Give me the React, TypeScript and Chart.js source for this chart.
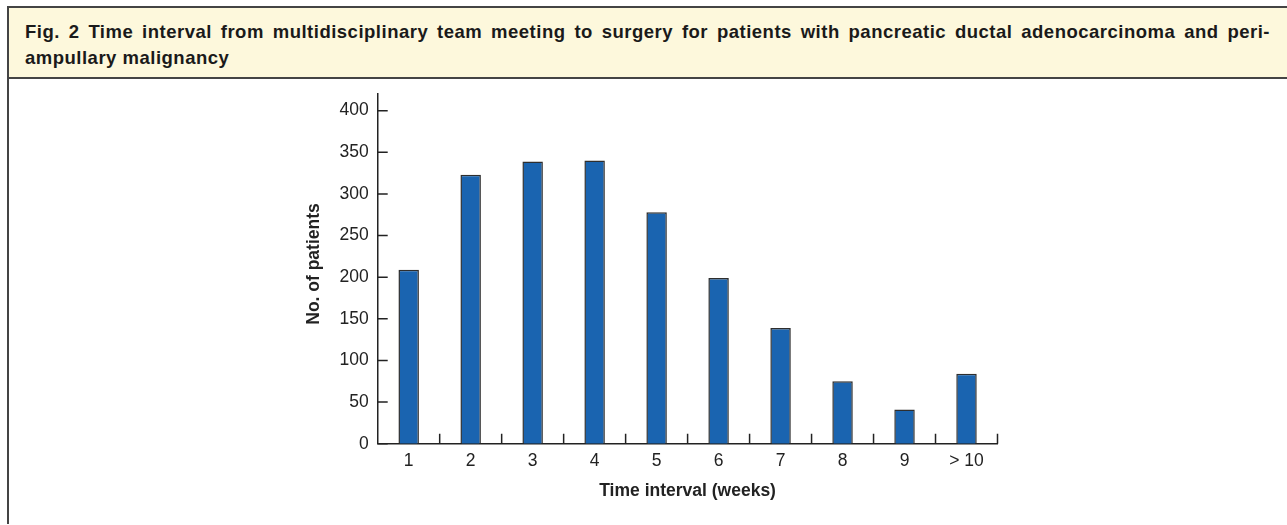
import React, { useEffect, useRef } from "react";
import { Chart, registerables } from "chart.js";

Chart.register(...registerables);

const categories = ["1", "2", "3", "4", "5", "6", "7", "8", "9", "> 10"];
const patients = [209, 323, 339, 340, 278, 199, 139, 75, 41, 84];
const yTickValues = [0, 50, 100, 150, 200, 250, 300, 350, 400];
const figureTitle =
  "Fig. 2 Time interval from multidisciplinary team meeting to surgery for patients with pancreatic ductal adenocarcinoma and peri-ampullary malignancy";
const xAxisTitle = "Time interval (weeks)";
const yAxisTitle = "No. of patients";

const FONT = "'Liberation Sans', Arial, Helvetica, sans-serif";
const INK = "#222222";

const tickMarks = {
  id: "tickMarks",
  afterDraw(chart: any) {
    const { ctx, chartArea } = chart;
    const x = chart.scales.x;
    const y = chart.scales.y;
    ctx.save();
    ctx.strokeStyle = INK;
    ctx.lineWidth = 1.5;
    ctx.beginPath();
    yTickValues.forEach((v) => {
      const py = y.getPixelForValue(v);
      ctx.moveTo(chartArea.left, py);
      ctx.lineTo(chartArea.left + 10, py);
    });
    const half = (x.getPixelForValue(1) - x.getPixelForValue(0)) / 2;
    categories.forEach((_, i) => {
      const px = x.getPixelForValue(i) + half;
      ctx.moveTo(px, chartArea.bottom);
      ctx.lineTo(px, chartArea.bottom - 10);
    });
    ctx.stroke();
    ctx.restore();
  },
};

export default function App() {
  const canvasRef = useRef<HTMLCanvasElement | null>(null);

  useEffect(() => {
    if (!canvasRef.current) return;
    const chart = new Chart(canvasRef.current, {
      type: "bar",
      data: {
        labels: categories,
        datasets: [
          {
            data: patients,
            backgroundColor: "#1a64b0",
            borderColor: "#2e2e2e",
            borderWidth: 1.5,
            barPercentage: 0.33,
            categoryPercentage: 1,
          },
        ],
      },
      options: {
        animation: false,
        responsive: false,
        devicePixelRatio: 1,
        layout: { padding: { left: 0, right: 289.5, top: 14, bottom: 0 } },
        plugins: {
          legend: { display: false },
          tooltip: { enabled: false },
        },
        scales: {
          x: {
            type: "category",
            offset: true,
            grid: { display: false, drawTicks: false },
            border: { display: true, color: INK, width: 1.5 },
            ticks: {
              color: INK,
              font: { family: FONT, size: 17.5 },
              padding: 7,
              maxRotation: 0,
              autoSkip: false,
            },
            title: {
              display: true,
              text: xAxisTitle,
              color: INK,
              font: { family: FONT, size: 17.5, weight: "bold" },
              padding: { top: 0, bottom: 23.5 },
            },
            afterFit: (s: any) => {
              s.height = 81.3;
              s.paddingLeft = 0;
              s.paddingRight = 0;
            },
          },
          y: {
            min: 0,
            max: 420,
            grid: { display: false, drawTicks: false },
            border: { display: true, color: INK, width: 1.5 },
            ticks: {
              stepSize: 50,
              includeBounds: false,
              autoSkip: false,
              color: INK,
              font: { family: FONT, size: 17.5 },
              padding: 9,
            },
            title: {
              display: true,
              text: "  " + yAxisTitle,
              color: INK,
              font: { family: FONT, size: 17.5, weight: "bold" },
              padding: { top: 303.5, bottom: 0 },
            },
            afterFit: (s: any) => {
              s.width = 377.7;
              s.paddingTop = 0;
              s.paddingBottom = 0;
            },
          },
        },
      },
      plugins: [tickMarks],
    });
    return () => chart.destroy();
  }, []);

  return (
    <div
      style={{
        position: "fixed",
        left: 0,
        top: 0,
        width: "100%",
        height: "100%",
        overflow: "hidden",
        background: "#ffffff",
      }}
    >
      <div
        style={{
          position: "absolute",
          left: 7,
          top: 6,
          width: 1300,
          boxSizing: "border-box",
          background: "#fdf8dc",
          borderTop: "2px solid #444",
          borderBottom: "2px solid #444",
          padding: "10.8px 0 5.3px 18px",
        }}
      >
        <div
          style={{
            width: 1245,
            fontFamily: FONT,
            fontWeight: "bold",
            fontSize: 18.5,
            letterSpacing: "0.5px",
            lineHeight: "26.6px",
            color: "#1a1a1a",
            textAlign: "justify",
          }}
        >
          {figureTitle}
        </div>
      </div>
      <canvas
        ref={canvasRef}
        width={1287}
        height={445}
        style={{ position: "absolute", left: 0, top: 80, width: 1287, height: 445 }}
      />
      <div
        style={{
          position: "absolute",
          left: 7,
          top: 6,
          width: 2,
          height: 518,
          background: "#444",
        }}
      />
    </div>
  );
}
